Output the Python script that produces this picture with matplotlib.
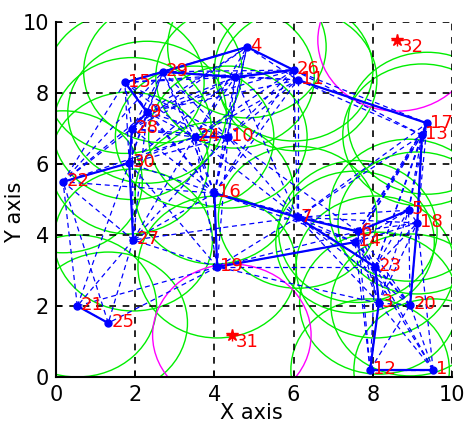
import numpy as np
import matplotlib
matplotlib.use("Agg")
import matplotlib.pyplot as plt
from matplotlib.patches import Circle

# Sensor nodes (label, x, y)
node_labels = ["1", "12", "3", "20", "23", "14", "6", "5", "18", "7", "16", "19",
               "27", "21", "25", "22", "30", "15", "29", "9", "28", "24", "10",
               "4", "26", "11", "17", "13", ""]
node_x = [9.52, 7.93, 8.15, 8.94, 8.06, 7.55, 7.62, 8.9, 9.12, 6.1, 4.0, 4.07,
          1.95, 0.54, 1.32, 0.18, 1.85, 1.74, 2.7, 2.3, 1.92, 3.5, 4.34,
          4.82, 6.0, 6.1, 9.37, 9.24, 4.52]
node_y = [0.2, 0.2, 2.08, 2.03, 3.1, 3.8, 4.1, 4.7, 4.34, 4.5, 5.18, 3.1,
          3.86, 2.0, 1.52, 5.5, 6.03, 8.3, 8.6, 7.46, 7.0, 6.76, 6.76,
          9.3, 8.65, 8.37, 7.15, 6.82, 8.45]

# Target points (asterisks) with magenta circles
target_labels = ["31", "32"]
target_x = [4.44, 8.61]
target_y = [1.18, 9.49]

sensing_radius = 2.0
comm_range = 4.3

# Solid (route) edges, by label
solid_edges = [("15", "29"), ("29", ""), ("", "26"), ("4", "26"), ("4", "29"),
               ("11", "17"), ("17", "13"), ("13", "18"), ("18", "20"),
               ("3", "12"), ("23", "3"), ("16", "19"), ("27", "30"),
               ("30", "28"), ("28", "9"), ("9", "15"), ("16", "7"), ("7", "6"),
               ("6", "5"), ("7", "23"), ("10", "24"), ("22", "30"),
               ("21", "25"), ("19", "14"), ("12", "1")]

FONT = ["DejaVu Sans"]

fig = plt.figure(figsize=(4.7, 4.25), dpi=100)
ax = fig.add_axes([0.119, 0.113, 0.843, 0.835])
ax.set_xlim(0, 10)
ax.set_ylim(0, 10)

nx = np.array(node_x)
ny = np.array(node_y)
idx = {lab: i for i, lab in enumerate(node_labels)}

# green sensing circles
for x, y in zip(nx, ny):
    c = Circle((x, y), sensing_radius, fill=False, ec="#00ee00", lw=1.0, zorder=2)
    ax.add_patch(c)
for x, y in zip(target_x, target_y):
    c = Circle((x, y), sensing_radius, fill=False, ec="#ff00ff", lw=1.0, zorder=2)
    ax.add_patch(c)

# dashed communication links
n = len(nx)
for i in range(n):
    for j in range(i + 1, n):
        d = np.hypot(nx[i] - nx[j], ny[i] - ny[j])
        if d <= comm_range:
            ax.plot([nx[i], nx[j]], [ny[i], ny[j]], color="#0000ff", lw=0.9,
                    ls=(0, (4, 3)), zorder=3)

# solid route links
for a, b in solid_edges:
    i, j = idx[a], idx[b]
    ax.plot([nx[i], nx[j]], [ny[i], ny[j]], color="#0000ff", lw=1.6, zorder=4)

ax.plot(nx, ny, "o", color="#0000ff", ms=5, zorder=5)
ax.plot(target_x, target_y, "*", color="#ff0000", ms=9, mew=1, zorder=5)
ax.plot(target_x, target_y, "+", color="#ff0000", ms=9, mew=1, zorder=5)

for lab, x, y in zip(node_labels, nx, ny):
    if lab:
        ax.text(x + 0.08, y + 0.02, lab, color="#ff0000", fontsize=13,
                family=FONT, va="center", ha="left", zorder=6)
for lab, x, y in zip(target_labels, target_x, target_y):
    ax.text(x + 0.1, y - 0.2, lab, color="#ff0000", fontsize=13,
            family=FONT, va="center", ha="left", zorder=6)

ax.set_xticks([0, 2, 4, 6, 8, 10])
ax.set_yticks([0, 2, 4, 6, 8, 10])
ax.grid(True, color="black", ls=(0, (4, 4)), lw=1.2)
ax.set_axisbelow(False)
for s in ["top", "right"]:
    ax.spines[s].set_visible(False)
for s in ["left", "bottom"]:
    ax.spines[s].set_linewidth(1.5)
    ax.spines[s].set_zorder(7)
ax.tick_params(direction="in", length=4, width=1.2, labelsize=15)
for t in ax.get_xticklabels() + ax.get_yticklabels():
    t.set_family(FONT)
ax.tick_params(axis="x", pad=6)
ax.tick_params(axis="y", pad=5)

ax.set_xlabel("X axis", fontsize=15, family=FONT)
ax.xaxis.set_label_coords(0.494, -0.072)
ax.set_ylabel("Y axis", fontsize=15, family=FONT)
ax.yaxis.set_label_coords(-0.078, 0.465)

fig.savefig("out.png", dpi=100)
